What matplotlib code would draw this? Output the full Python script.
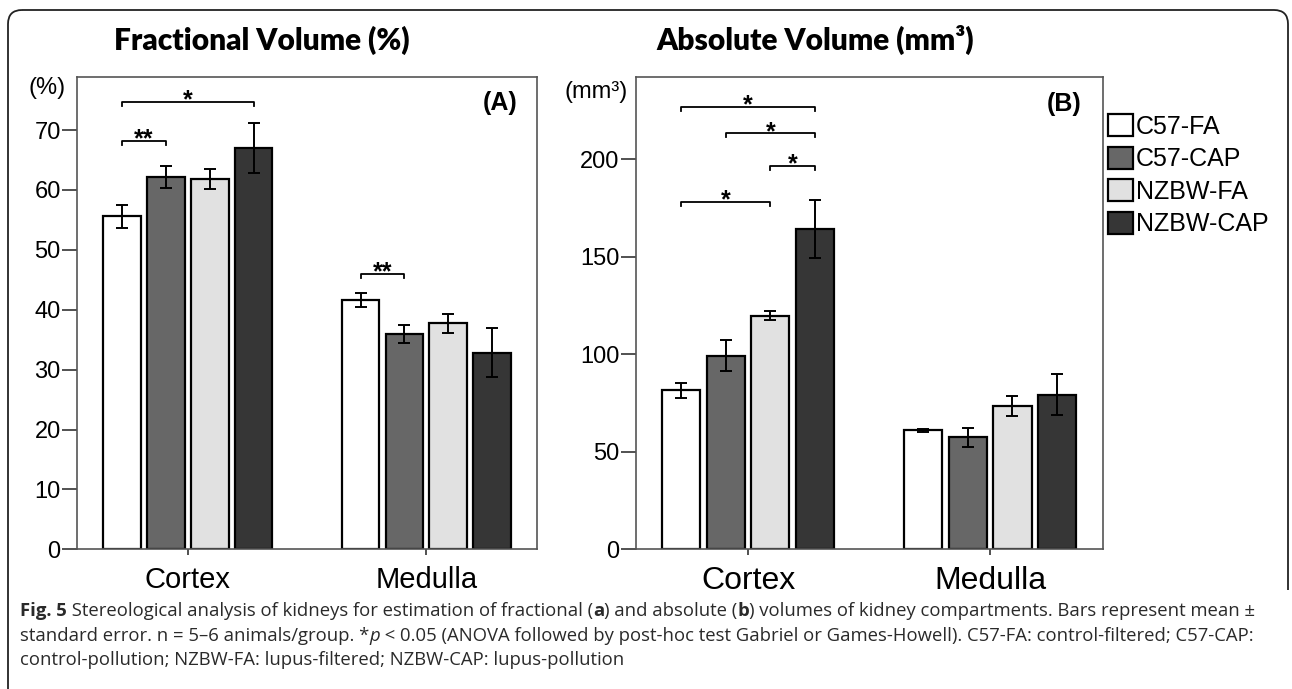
import numpy as np
import matplotlib
matplotlib.use("Agg")
import matplotlib.pyplot as plt
from matplotlib.patches import FancyBboxPatch

plt.rcParams["font.family"] = ["Liberation Sans", "DejaVu Sans"]

# data
groups = ["C57-FA", "C57-CAP", "NZBW-FA", "NZBW-CAP"]
colors = ["#ffffff", "#676767", "#e1e1e1", "#363636"]
compartments = ["Cortex", "Medulla"]

frac_mean = {
    "Cortex": [55.6, 62.2, 61.8, 67.0],
    "Medulla": [41.6, 36.0, 37.7, 32.8],
}
frac_err = {
    "Cortex": [1.9, 1.85, 1.65, 4.2],
    "Medulla": [1.2, 1.5, 1.6, 4.1],
}
abs_mean = {
    "Cortex": [81.5, 99.3, 119.7, 164.3],
    "Medulla": [61.0, 57.3, 73.3, 79.3],
}
abs_err = {
    "Cortex": [3.9, 8.0, 2.3, 14.8],
    "Medulla": [0.8, 4.7, 5.1, 10.3],
}

# significance brackets: (compartment, group i, group j, bracket height, label)
frac_sig = [
    ("Cortex", 0, 3, 74.7, "*"),
    ("Cortex", 0, 1, 68.2, "**"),
    ("Medulla", 0, 1, 46.0, "**"),
]
abs_sig = [
    ("Cortex", 0, 3, 226.8, "*"),
    ("Cortex", 1, 3, 213.2, "*"),
    ("Cortex", 2, 3, 196.4, "*"),
    ("Cortex", 0, 2, 178.1, "*"),
]

BAR_W = 0.158
STEP = 0.184
W, H = 1292, 689


def offset(i):
    return (i - 1.5) * STEP


def draw_panel(ax, means, errs, sigs, ymax, yticks, drop, xlab_size):
    for i, g in enumerate(groups):
        xs = np.arange(len(compartments)) + offset(i)
        vals = [means[c][i] for c in compartments]
        es = [errs[c][i] for c in compartments]
        ax.bar(xs, vals, BAR_W, color=colors[i], edgecolor="black",
               linewidth=1.6, label=g, zorder=2)
        ax.errorbar(xs, vals, yerr=es, fmt="none", ecolor="black",
                    elinewidth=1.4, capsize=4.5, capthick=1.4, zorder=3)
    for comp, a, b, y, lab in sigs:
        c = compartments.index(comp)
        x1, x2 = c + offset(a), c + offset(b)
        ax.plot([x1, x1, x2, x2], [y - drop, y, y, y - drop], color="black",
                lw=1.3, zorder=3, clip_on=False)
        ax.annotate(lab, ((x1 + x2) / 2, y), xytext=(0, -4),
                    textcoords="offset points", ha="center", va="baseline",
                    fontsize=18, fontweight="bold")
    ax.set_xlim(-0.463, 1.465)
    ax.set_ylim(0, ymax)
    ax.set_yticks(yticks)
    ax.set_xticks(range(len(compartments)))
    ax.set_xticklabels(compartments, fontsize=xlab_size)
    ax.tick_params(axis="y", direction="out", length=11, width=1.2,
                   labelsize=17, pad=1, color="#333333")
    ax.tick_params(axis="x", direction="out", length=4, width=1.2,
                   pad=8, color="#333333")
    for sp in ax.spines.values():
        sp.set_color("#555555")
        sp.set_linewidth(1.2)


fig = plt.figure(figsize=(W / 100, H / 100), dpi=100)

# background layer in pixel coords for the page frame
bg = fig.add_axes([0, 0, 1, 1], facecolor="none", zorder=-1)
bg.set_axis_off()
bg.set_xlim(0, W)
bg.set_ylim(H, 0)
bg.add_patch(FancyBboxPatch((8, 10), 1280, 1000,
                            boxstyle="round,pad=0,rounding_size=14",
                            facecolor="none", edgecolor="#222222",
                            linewidth=1.3))
bg.add_patch(plt.Rectangle((1270, 590), 30, 200, facecolor="white",
                           edgecolor="none", zorder=5))

ax_a = fig.add_axes([77.3 / W, 1 - 549.3 / H, 460 / W, 472.6 / H])
ax_b = fig.add_axes([636 / W, 1 - 549.3 / H, 466.7 / W, 472.6 / H])

draw_panel(ax_a, frac_mean, frac_err, frac_sig, 78.9, range(0, 80, 10), 0.65, 21)
draw_panel(ax_b, abs_mean, abs_err, abs_sig, 242.2, range(0, 250, 50), 2.0, 23)

# panel titles and labels
fig.text(262 / W, 1 - 40 / H, "Fractional Volume (%)", ha="center", va="center",
         fontsize=21.5, fontweight="heavy", family=["Lato", "DejaVu Sans"])
fig.text(815 / W, 1 - 40 / H, "Absolute Volume (mm³)", ha="center", va="center",
         fontsize=21.5, fontweight="heavy", family=["Lato", "DejaVu Sans"])
fig.text(47 / W, 1 - 88 / H, "(%)", ha="center", va="center", fontsize=17)
fig.text(596 / W, 1 - 92 / H, "(mm³)", ha="center", va="center", fontsize=17)
fig.text(500 / W, 1 - 103 / H, "(A)", ha="center", va="center", fontsize=18,
         fontweight="bold")
fig.text(1064 / W, 1 - 104 / H, "(B)", ha="center", va="center", fontsize=18,
         fontweight="bold")

handles, labels = ax_b.get_legend_handles_labels()
fig.legend(handles, labels, loc="upper left",
           bbox_to_anchor=(1108 / W, 1 - 114 / H), frameon=False,
           fontsize=18, handlelength=1.0, handleheight=1.0,
           handletextpad=0.1, labelspacing=0.31, borderpad=0,
           borderaxespad=0)

# caption, drawn in runs so bold / italic pieces sit inline
cap_lines = [
    [("Fig. 5", "bold", "normal"),
     (" Stereological analysis of kidneys for estimation of fractional (", "normal", "normal"),
     ("a", "bold", "normal"),
     (") and absolute (", "normal", "normal"),
     ("b", "bold", "normal"),
     (") volumes of kidney compartments. Bars represent mean \u00b1", "normal", "normal")],
    [("standard error. n = 5\u20136 animals/group. *", "normal", "normal"),
     ("p", "normal", "italic"),
     (" < 0.05 (ANOVA followed by post-hoc test Gabriel or Games-Howell). C57-FA: control-filtered; C57-CAP:", "normal", "normal")],
    [("control-pollution; NZBW-FA: lupus-filtered; NZBW-CAP: lupus-pollution", "normal", "normal")],
]
cap_y = [611, 636, 660]

renderer = fig.canvas.get_renderer()
for line, yy in zip(cap_lines, cap_y):
    x = 20
    for s, wt, st in line:
        t = fig.text(x / W, 1 - yy / H, s, ha="left", va="center", fontsize=13.3,
                     fontweight=wt, fontstyle=st, color="#2a2a2a",
                     family=["Open Sans", "DejaVu Sans"])
        x += t.get_window_extent(renderer=renderer).width

fig.savefig("out.png", dpi=100)
